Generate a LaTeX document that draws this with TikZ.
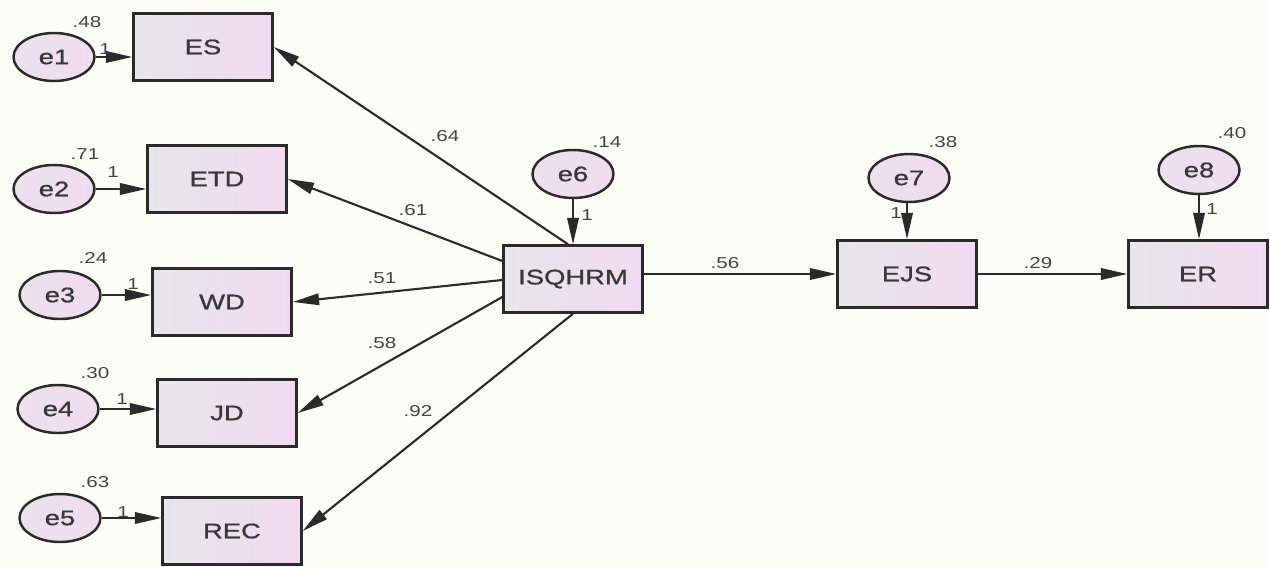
\documentclass[tikz,border=0pt]{standalone}
\usepackage{fontspec}
\setmainfont{Liberation Sans}
\newfontfamily\amos[FakeStretch=1.3,FakeBold=1]{Liberation Sans}
\newfontfamily\amoslight[FakeStretch=1.3]{Liberation Sans}
\usetikzlibrary{arrows.meta,shapes.geometric,calc}
\definecolor{bgcream}{HTML}{FDFDF7}
\definecolor{edge}{HTML}{2A2A2A}
\definecolor{boxgray}{HTML}{E7E6EA}
\definecolor{boxpink}{HTML}{F1DAF1}
\definecolor{errpink}{HTML}{F0DCF0}
\definecolor{txt}{HTML}{383838}
\definecolor{labgray}{HTML}{444444}
\tikzset{
  obs/.style={draw=edge, line width=1.4pt, minimum width=2.78cm, minimum height=1.34cm,
    left color=boxgray, right color=boxpink, text=txt,
    font=\amos\fontsize{12}{14}\selectfont},
  err/.style={ellipse, draw=edge, line width=1.4pt, minimum width=1.62cm, minimum height=0.96cm,
    left color=boxgray!50!errpink, right color=errpink, text=txt, inner sep=0pt,
    font=\amos\fontsize{12}{14}\selectfont},
  reg/.style={draw=edge, line width=1.2pt, -{Triangle[length=15pt,width=6.5pt]}},
  est/.style={text=labgray, inner sep=0pt, font=\amoslight\fontsize{9}{10}\selectfont}
}
\begin{document}
\begin{tikzpicture}[x=0.02cm,y=-0.02cm]
\fill[bgcream] (0,0) rectangle (1270,567);
\useasboundingbox (0,0) rectangle (1270,567);

% observed variables
\node[obs] (es)  at (203,47)  {ES};
\node[obs] (etd) at (217,179) {ETD};
\node[obs] (wd)  at (222,302) {WD};
\node[obs] (jd)  at (227,413) {JD};
\node[obs] (rec) at (232,531) {REC};
\node[obs] (isq) at (573,279) {ISQHRM};
\node[obs] (ejs) at (907,274) {EJS};
\node[obs] (er)  at (1198,274) {ER};

% error terms
\node[err] (e1) at (54,57)   {e1};
\node[err] (e2) at (54,189)  {e2};
\node[err] (e3) at (60,295)  {e3};
\node[err] (e4) at (58,409)  {e4};
\node[err] (e5) at (60,518)  {e5};
\node[err] (e6) at (573,174) {e6};
\node[err] (e7) at (909,178) {e7};
\node[err] (e8) at (1199,170) {e8};

% error paths
\draw[reg] (e1.east) -- (e1.east -| es.west);
\draw[reg] (e2.east) -- (e2.east -| etd.west);
\draw[reg] (e3.east) -- (e3.east -| wd.west);
\draw[reg] (e4.east) -- (e4.east -| jd.west);
\draw[reg] (e5.east) -- (e5.east -| rec.west);
\draw[reg] (e6.south) -- (e6.south |- isq.north);
\draw[reg] (e7.south -| ejs.north) -- (ejs.north);
\draw[reg] (e8.south) -- (e8.south |- er.north);

% structural paths
\coordinate (sES)  at ($(isq.north)+(-5,0)$);
\coordinate (sETD) at ($(isq.west)+(0,-18)$);
\coordinate (sWD)  at ($(isq.west)+(0,1)$);
\coordinate (sJD)  at ($(isq.west)+(0,18)$);
\coordinate (sEJS) at ($(isq.east)+(0,-5)$);
\draw[reg] (sES)  -- (es.east);
\draw[reg] (sETD) -- (etd.east);
\draw[reg] (sWD)  -- (wd.east);
\draw[reg] (sJD)  -- (jd.east);
\draw[reg] (isq.south) -- (rec.east);
\draw[reg] (sEJS) -- (sEJS -| ejs.west);
\draw[reg] (ejs.east) -- (er.west);

% variances
\node[est] (v1) at (87,22)    {.48};
\node[est] (v2) at (85,154)   {.71};
\node[est] (v3) at (93,258)   {.24};
\node[est] (v4) at (95,373)   {.30};
\node[est] (v5) at (95,482)   {.63};
\node[est] (v6) at (607,142)  {.14};
\node[est] (v7) at (943,142)  {.38};
\node[est] (v8) at (1232,133) {.40};

% fixed loadings
\node[est] (f1) at (105,49)  {1};
\node[est] (f2) at (113,172) {1};
\node[est] (f3) at (133,284) {1};
\node[est] (f4) at (122,399) {1};
\node[est] (f5) at (123,512) {1};
\node[est] (f6) at (587,215) {1};
\node[est] (f7) at (896,213) {1};
\node[est] (f8) at (1212,209) {1};

% path coefficients
\node[est] (c1) at (445,136)  {.64};
\node[est] (c2) at (413,210)  {.61};
\node[est] (c3) at (382,278)  {.51};
\node[est] (c4) at (382,343)  {.58};
\node[est] (c5) at (418,411)  {.92};
\node[est] (c6) at (725,263)  {.56};
\node[est] (c7) at (1038,263) {.29};
\end{tikzpicture}
\end{document}
